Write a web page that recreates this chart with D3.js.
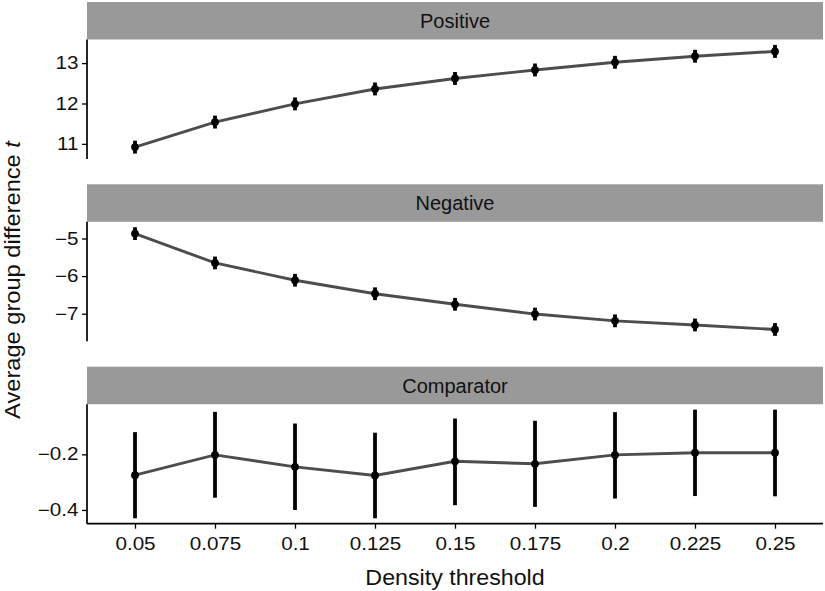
<!DOCTYPE html>
<html><head><meta charset="utf-8">
<script src="https://cdn.jsdelivr.net/npm/d3@7"></script>
<style>
html,body{margin:0;padding:0;background:#fff;}
text{font-family:"Liberation Sans",Arial,Helvetica,sans-serif;}
</style></head>
<body><svg id="chart" width="825" height="591"></svg>
<script>
const thresholds = ["0.05","0.075","0.1","0.125","0.15","0.175","0.2","0.225","0.25"];
const panelNames = ["Positive","Negative","Comparator"];
const posMean = [10.92, 11.54, 11.99, 12.36, 12.62, 12.83, 13.02, 13.17, 13.29];
const posLo   = [10.76, 11.38, 11.83, 12.20, 12.46, 12.67, 12.86, 13.01, 13.13];
const posHi   = [11.08, 11.70, 12.15, 12.52, 12.78, 12.99, 13.18, 13.33, 13.45];
const negMean = [-4.87, -5.65, -6.11, -6.47, -6.75, -7.01, -7.19, -7.30, -7.42];
const negLo   = [-5.04, -5.82, -6.28, -6.64, -6.92, -7.18, -7.36, -7.47, -7.59];
const negHi   = [-4.70, -5.48, -5.94, -6.30, -6.58, -6.84, -7.02, -7.13, -7.25];
const compMean = [-0.275, -0.202, -0.245, -0.276, -0.225, -0.234, -0.202, -0.194, -0.194];
const compLo   = [-0.430, -0.356, -0.400, -0.430, -0.383, -0.389, -0.359, -0.350, -0.351];
const compHi   = [-0.120, -0.047, -0.089, -0.122, -0.071, -0.079, -0.048, -0.039, -0.039];
const posTicks = [11, 12, 13];
const negTicks = [-7, -6, -5];
const compTicks = [-0.4, -0.2];
const xTitle = "Density threshold";
const yTitle = "Average group difference ";
const yTitleItalic = "t";

const panels = [
  {name: panelNames[0], mean: posMean, lo: posLo, hi: posHi, ticks: posTicks},
  {name: panelNames[1], mean: negMean, lo: negLo, hi: negHi, ticks: negTicks},
  {name: panelNames[2], mean: compMean, lo: compLo, hi: compHi, ticks: compTicks}
];

const svg = d3.select("#chart");
const left = 87, right = 823;
const stripTops = [2, 184.3, 366.7];
const stripH = 37.5, plotH = 119.5;

const x = d3.scalePoint().domain(thresholds).range([left, right]).padding(0.6);
const fmt = v => String(v).replace("-", "\u2212");
const ink = "#111";

panels.forEach((p, i) => {
  const st = stripTops[i];
  const top = st + stripH, bottom = top + plotH;
  const mn = d3.min(p.lo), mx = d3.max(p.hi), ex = (mx - mn) * 0.05;
  const y = d3.scaleLinear().domain([mn - ex, mx + ex]).range([bottom, top]);
  const g = svg.append("g");
  // strip
  g.append("rect").attr("x", left).attr("y", st).attr("width", right - left).attr("height", stripH).attr("fill", "#999999");
  g.append("text").attr("x", (left + right) / 2).attr("y", st + stripH / 2).attr("dy", "0.36em")
    .attr("text-anchor", "middle").attr("font-size", 20).attr("fill", ink).text(p.name);
  // y axis
  const ya = d3.axisLeft(y).tickValues(p.ticks).tickSize(5).tickPadding(3).tickFormat(fmt);
  const yg = g.append("g").attr("transform", `translate(${left},0)`).call(ya);
  yg.select(".domain").attr("d", `M0,${top}V${bottom}`).attr("stroke", "#000").attr("stroke-width", 1.7);
  yg.selectAll(".tick line").attr("stroke", "#000").attr("stroke-width", 1.3);
  yg.selectAll(".tick text").attr("font-size", 17.5).attr("fill", ink).attr("font-family", "Liberation Sans, Arial, sans-serif")
    .attr("transform", "scale(1.18,1)").attr("x", -8.5 / 1.18);
  // line
  const idx = d3.range(thresholds.length);
  g.append("path").datum(idx)
    .attr("d", d3.line().x(j => x(thresholds[j])).y(j => y(p.mean[j])))
    .attr("fill", "none").attr("stroke", "#4d4d4d").attr("stroke-width", 2.9);
  // error bars
  g.selectAll(".eb").data(idx).join("line")
    .attr("x1", j => x(thresholds[j])).attr("x2", j => x(thresholds[j]))
    .attr("y1", j => y(p.lo[j])).attr("y2", j => y(p.hi[j]))
    .attr("stroke", "#000").attr("stroke-width", 3.8);
  // points
  g.selectAll(".pt").data(idx).join("circle")
    .attr("cx", j => x(thresholds[j])).attr("cy", j => y(p.mean[j])).attr("r", 3.9).attr("fill", "#000");
  // x axis on bottom panel
  if (i === panels.length - 1) {
    const xa = d3.axisBottom(x).tickSize(5).tickPadding(3);
    const xg = g.append("g").attr("transform", `translate(0,${bottom})`).call(xa);
    xg.select(".domain").attr("d", `M${left},0H${right}`).attr("stroke", "#000").attr("stroke-width", 1.7);
    xg.selectAll(".tick line").attr("stroke", "#000").attr("stroke-width", 1.3);
    xg.selectAll(".tick text").attr("font-size", 17.5).attr("fill", ink)
      .attr("font-family", "Liberation Sans, Arial, sans-serif")
      .attr("y", 0).attr("dy", 0).attr("x", 0)
      .attr("transform", "translate(0,26.5) scale(1.18,1)");
  }
});

// axis titles
svg.append("text").attr("x", 0).attr("y", 0).attr("text-anchor", "middle")
  .attr("font-size", 21.5).attr("fill", ink)
  .attr("transform", `translate(${(left+right)/2},584.5) scale(1.08,1)`)
  .text(xTitle);
const yt = svg.append("text").attr("transform", "translate(20,280) rotate(-90) scale(1.1,1)")
  .attr("text-anchor", "middle").attr("font-size", 21.5).attr("fill", ink);
yt.append("tspan").text(yTitle);
yt.append("tspan").attr("font-style", "italic").text(yTitleItalic);
</script></body></html>
